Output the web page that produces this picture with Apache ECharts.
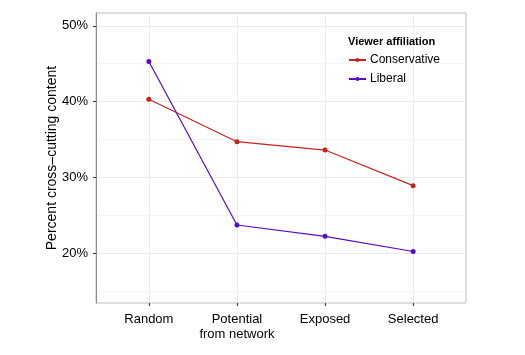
<!DOCTYPE html>
<html><head><meta charset="utf-8">
<script src="https://cdn.jsdelivr.net/npm/echarts@6/dist/echarts.min.js"></script>
<style>html,body{margin:0;padding:0;background:#fff}#c{width:525px;height:355px}</style>
</head><body><div id="c"></div>
<script>
const categories = ['Random', 'Potential\nfrom network', 'Exposed', 'Selected'];
const conservative = [40.3, 34.7, 33.6, 28.9];
const liberal = [45.3, 23.7, 22.2, 20.2];
const yTicks = [20, 30, 40, 50];
const yMinor = [15, 25, 35, 45];

const font = 'Liberation Sans, Arial, Helvetica, sans-serif';
const pos = categories.map((c, i) => i + 1);
const toPts = arr => arr.map((v, i) => [pos[i], v]);

const chart = echarts.init(document.getElementById('c'));
chart.setOption({
  animation: false,
  grid: { left: 96, top: 13, right: 59, bottom: 52, show: true, borderColor: '#bdbdbd', borderWidth: 1, backgroundColor: '#fff' },
  xAxis: {
    type: 'value', min: 0.4, max: 4.6,
    axisLine: { show: false },
    axisTick: { show: true, customValues: pos, length: 3, lineStyle: { color: '#333' } },
    axisLabel: { customValues: pos, margin: 9, color: '#000', fontFamily: font, fontSize: 13, lineHeight: 15,
      formatter: v => categories[Math.round(v) - 1] || '' },
    splitLine: { show: true, lineStyle: { color: '#ebebeb', width: 1 } }
  },
  yAxis: [{
    type: 'value', min: 13.4, max: 51.7,
    name: 'Percent cross\u2013cutting content', nameLocation: 'middle', nameGap: 37, nameMoveOverlap: false,
    nameTextStyle: { color: '#000', fontFamily: font, fontSize: 14 },
    axisLine: { show: true, lineStyle: { color: '#8c8c8c' } },
    axisTick: { show: true, customValues: yTicks, length: 3, lineStyle: { color: '#333' } },
    axisLabel: { customValues: yTicks, margin: 8, color: '#000', fontFamily: font, fontSize: 13, formatter: v => v + '%' },
    splitLine: { show: true, lineStyle: { color: '#ebebeb', width: 1 } }
  }, {
    type: 'value', min: 13.4, max: 51.7, position: 'left',
    axisLine: { show: false }, axisLabel: { show: false, customValues: yMinor },
    axisTick: { show: false, customValues: yMinor },
    splitLine: { show: true, lineStyle: { color: '#f5f5f5', width: 1 } }
  }],
  graphic: [{
    type: 'text', left: 348, top: 36, z: 10,
    style: { text: 'Viewer affiliation', font: 'bold 11px ' + font, fill: '#000' }
  }],
  legend: {
    orient: 'vertical', left: 348, top: 54, padding: 0, itemGap: 7, itemWidth: 17, itemHeight: 5,
    textStyle: { color: '#000', fontFamily: font, fontSize: 12, padding: [0, 0, 0, -1] },
    data: ['Conservative', 'Liberal']
  },
  series: [{
    name: 'Conservative', type: 'line', data: toPts(conservative),
    symbol: 'circle', symbolSize: 5, color: '#c8231f',
    lineStyle: { width: 1.2, color: '#c8231f' }, itemStyle: { color: '#c8231f' }
  }, {
    name: 'Liberal', type: 'line', data: toPts(liberal),
    symbol: 'circle', symbolSize: 5, color: '#5a0ac8',
    lineStyle: { width: 1.2, color: '#5a0ac8' }, itemStyle: { color: '#5a0ac8' }
  }]
});
</script></body></html>
